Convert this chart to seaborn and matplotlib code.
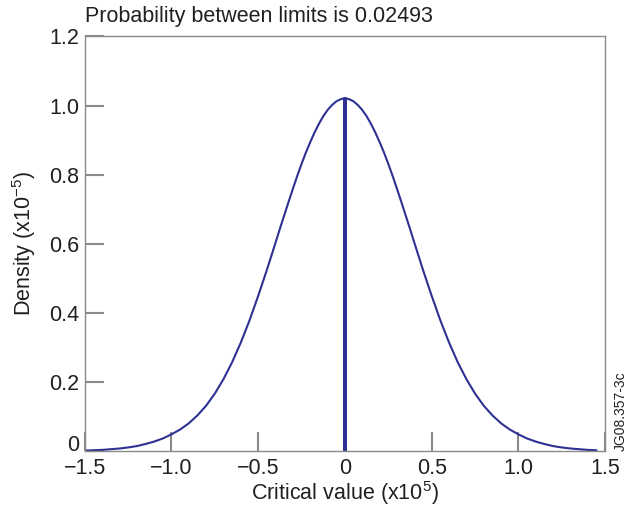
import numpy as np
import pandas as pd
import matplotlib
matplotlib.use('Agg')
import matplotlib.pyplot as plt
import seaborn as sns

# ================= data =================
crit_x = [-1.50, -1.45, -1.40, -1.35, -1.30, -1.25, -1.20, -1.15, -1.10, -1.05,
          -1.00, -0.95, -0.90, -0.85, -0.80, -0.75, -0.70, -0.65, -0.60, -0.55,
          -0.50, -0.45, -0.40, -0.375, -0.35, -0.325, -0.30, -0.275, -0.25, -0.225,
          -0.20, -0.175, -0.15, -0.125, -0.10, -0.075, -0.05, -0.025,
          0.00, 0.025, 0.05, 0.075, 0.10, 0.125, 0.15, 0.175, 0.20, 0.225,
          0.25, 0.275, 0.30, 0.325, 0.35, 0.375, 0.40, 0.45,
          0.50, 0.55, 0.60, 0.65, 0.70, 0.75, 0.80, 0.85, 0.90, 0.95,
          1.00, 1.05, 1.10, 1.15, 1.20, 1.25, 1.30, 1.35, 1.40, 1.45]
density = [0.001, 0.002, 0.003, 0.005, 0.007, 0.010, 0.014, 0.020, 0.027, 0.036,
           0.048, 0.062, 0.080, 0.103, 0.131, 0.166, 0.208, 0.257, 0.314, 0.378,
           0.449, 0.524, 0.603, 0.643, 0.682, 0.721, 0.759, 0.796, 0.831, 0.864,
           0.894, 0.922, 0.947, 0.969, 0.987, 1.001, 1.012, 1.018,
           1.022, 1.018, 1.012, 1.001, 0.987, 0.969, 0.947, 0.922, 0.894, 0.864,
           0.831, 0.796, 0.759, 0.721, 0.682, 0.643, 0.603, 0.524,
           0.449, 0.378, 0.314, 0.257, 0.208, 0.166, 0.131, 0.103, 0.080, 0.062,
           0.048, 0.036, 0.027, 0.020, 0.014, 0.010, 0.007, 0.005, 0.003, 0.002]

# limits of the shaded band and its height
limits = [-0.0122, 0.0122]
limit_density = [1.022, 1.022]
prob_between = 0.02493

x_ticks = [-1.5, -1.0, -0.5, 0, 0.5, 1.0, 1.5]
x_ticklabels = ['\u22121.5', '\u22121.0', '\u22120.5', '0', '0.5', '1.0', '1.5']
y_ticks = [0, 0.2, 0.4, 0.6, 0.8, 1.0, 1.2]
y_ticklabels = ['0', '0.2', '0.4', '0.6', '0.8', '1.0', '1.2']

# ================= style =================
sns.set_theme(style='white')
plt.rcParams['font.family'] = ['Liberation Sans', 'DejaVu Sans']
plt.rcParams['mathtext.fontset'] = 'custom'
plt.rcParams['mathtext.rm'] = 'Liberation Sans'
plt.rcParams['mathtext.it'] = 'Liberation Sans'

navy = '#2e3192'
grey = '#8a8a8a'
ink = '#231f20'
fs = 15.5

df = pd.DataFrame({'x': crit_x, 'density': density})

fig = plt.figure(figsize=(6.37, 5.13), dpi=100)
ax = fig.add_axes([0.133, 0.121, 0.817, 0.808])

sns.lineplot(data=df, x='x', y='density', color=navy, lw=1.5, ax=ax)
ax.fill_between(limits, 0, limit_density, color=navy, lw=0)

ax.set_xlim(-1.5, 1.5)
ax.set_ylim(0, 1.2)
ax.set_xticks(x_ticks)
ax.set_xticklabels(x_ticklabels)
ax.set_yticks(y_ticks)
ax.set_yticklabels(y_ticklabels)
ax.tick_params(bottom=True, left=True, direction='in', length=14, width=1.5,
               color=grey, labelsize=fs, labelcolor=ink, pad=4)
ax.tick_params(axis='x', pad=5)
# the bottom "0" sits on the axis line, as in the reference
ax.get_yticklabels()[0].set_va('baseline')

for sp in ax.spines.values():
    sp.set_color(grey)
    sp.set_linewidth(1.0)

ax.set_xlabel('Critical value (x10$^{5}$)', fontsize=fs, color=ink, labelpad=0)
ax.set_ylabel('Density (x10$^{\u22125}$)', fontsize=fs, color=ink, labelpad=8)

fig.text(0.133, 0.958, f'Probability between limits is {prob_between}',
         fontsize=fs, color=ink, ha='left', va='baseline')
fig.text(0.975, 0.121, 'JG08.357-3c', rotation=90, fontsize=10,
         color=ink, ha='center', va='bottom')

fig.savefig('out.png', dpi=100)
plt.close(fig)
